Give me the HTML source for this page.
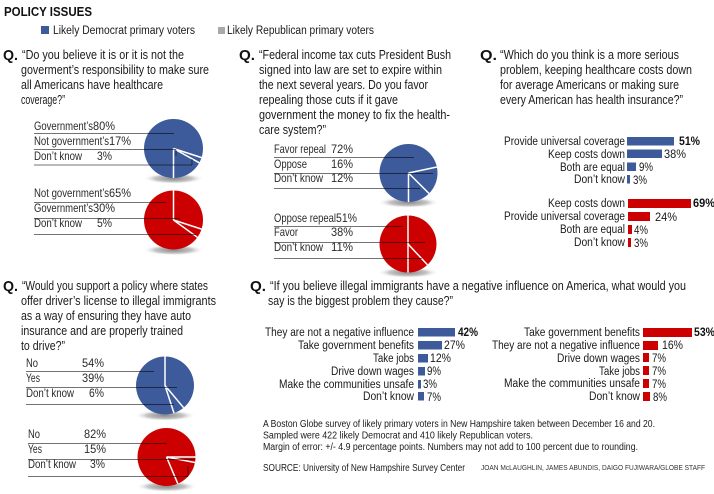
<!DOCTYPE html>
<html><head><meta charset="utf-8"><style>
html,body{margin:0;padding:0;background:#fff;}
svg{display:block;}
text{font-family:"Liberation Sans Narrow","Liberation Sans",Arial,sans-serif;fill:#1a1a1a;}
.q{font-size:13px;}
.Q{font-size:15px;font-weight:bold;fill:#111;}
.pl{font-size:12px;fill:#2a2a2a;}
.bl{font-size:11.5px;fill:#1a1a1a;}
.bb{font-size:11.5px;font-weight:bold;fill:#111;}
.ft{font-size:10px;fill:#1a1a1a;}
.rule{stroke:rgba(0,0,0,0.55);stroke-width:1;}
.wl{stroke:#fff;stroke-width:1.5;}
</style></head><body>
<svg width="714" height="494" viewBox="0 0 714 494" xmlns="http://www.w3.org/2000/svg">
<defs>
<radialGradient id="sh" cx="50%" cy="50%" r="50%">
<stop offset="0%" stop-color="#8a8a8a"/>
<stop offset="60%" stop-color="#c4c4c4"/>
<stop offset="100%" stop-color="#fff" stop-opacity="0"/>
</radialGradient>
</defs>

<!-- Title & legend -->
<text x="4" y="16" style="font-size:12.5px;font-weight:bold;fill:#111" textLength="88" lengthAdjust="spacingAndGlyphs">POLICY ISSUES</text>
<rect x="41" y="26" width="8" height="8" fill="#3d5b9b"/>
<text x="53" y="34" style="font-size:11.5px" textLength="142" lengthAdjust="spacingAndGlyphs">Likely Democrat primary voters</text>
<rect x="218" y="27" width="7" height="7" fill="#aaaaaa"/>
<text x="227" y="34" style="font-size:11.5px" textLength="147" lengthAdjust="spacingAndGlyphs">Likely Republican primary voters</text>

<!-- Q1 -->
<text class="Q" x="3" y="60" textLength="15" lengthAdjust="spacingAndGlyphs">Q.</text>
<text class="q" x="22" y="59" textLength="162" lengthAdjust="spacingAndGlyphs">“Do you believe it is or it is not the</text>
<text class="q" x="21" y="74" textLength="188" lengthAdjust="spacingAndGlyphs">goverment’s responsibility to make sure</text>
<text class="q" x="21" y="89" textLength="142" lengthAdjust="spacingAndGlyphs">all Americans have healthcare</text>
<text class="q" x="21" y="104" textLength="44" lengthAdjust="spacingAndGlyphs">coverage?”</text>

<!-- Pie 1 Dem -->
<ellipse cx="173.5" cy="178.5" rx="31" ry="5.5" fill="url(#sh)"/>
<circle cx="173.5" cy="148.5" r="29.5" fill="#3d5b9b"/>
<line class="wl" x1="173.5" y1="148.5" x2="201.6" y2="157.6"/>
<line class="wl" x1="173.5" y1="148.5" x2="199.3" y2="162.8"/>
<line class="wl" x1="173.5" y1="148.5" x2="173.5" y2="178"/>
<text class="pl" x="34" y="130" textLength="59" lengthAdjust="spacingAndGlyphs">Government’s</text>
<text class="pl" x="93" y="130" textLength="22" lengthAdjust="spacingAndGlyphs">80%</text>
<text class="pl" x="34" y="145" textLength="75" lengthAdjust="spacingAndGlyphs">Not government’s</text>
<text class="pl" x="109" y="145" textLength="22" lengthAdjust="spacingAndGlyphs">17%</text>
<text class="pl" x="34" y="160" textLength="48" lengthAdjust="spacingAndGlyphs">Don’t know</text>
<text class="pl" x="97" y="160" textLength="15" lengthAdjust="spacingAndGlyphs">3%</text>
<line class="rule" x1="34" y1="133.5" x2="174" y2="133.5"/>
<line class="rule" x1="34" y1="149.5" x2="176" y2="149.5"/>
<line class="rule" x1="176" y1="149.5" x2="176" y2="156"/>
<line class="rule" x1="34" y1="165" x2="192" y2="165"/>
<line class="rule" x1="192" y1="165" x2="192" y2="159"/>

<!-- Pie 2 Rep -->
<ellipse cx="173.5" cy="250" rx="31" ry="5.5" fill="url(#sh)"/>
<circle cx="173.5" cy="220" r="29.5" fill="#cc0000"/>
<line class="wl" x1="173.5" y1="220" x2="173.5" y2="190.5"/>
<line class="wl" x1="173.5" y1="220" x2="201.6" y2="229.1"/>
<line class="wl" x1="173.5" y1="220" x2="197.4" y2="237.3"/>
<text class="pl" x="34" y="197" textLength="75" lengthAdjust="spacingAndGlyphs">Not government’s</text>
<text class="pl" x="109" y="197" textLength="22" lengthAdjust="spacingAndGlyphs">65%</text>
<text class="pl" x="34" y="212" textLength="59" lengthAdjust="spacingAndGlyphs">Government’s</text>
<text class="pl" x="93" y="212" textLength="22" lengthAdjust="spacingAndGlyphs">30%</text>
<text class="pl" x="34" y="227" textLength="48" lengthAdjust="spacingAndGlyphs">Don’t know</text>
<text class="pl" x="97" y="227" textLength="15" lengthAdjust="spacingAndGlyphs">5%</text>
<line class="rule" x1="34" y1="202.5" x2="166" y2="202.5"/>
<line class="rule" x1="34" y1="218.5" x2="180" y2="218.5"/>
<line class="rule" x1="34" y1="234.5" x2="196" y2="234.5"/>

<!-- Q2 -->
<text class="Q" x="239" y="60" textLength="16" lengthAdjust="spacingAndGlyphs">Q.</text>
<text class="q" x="259" y="59" textLength="192" lengthAdjust="spacingAndGlyphs">“Federal income tax cuts President Bush</text>
<text class="q" x="259" y="74" textLength="183" lengthAdjust="spacingAndGlyphs">signed into law are set to expire within</text>
<text class="q" x="259" y="89" textLength="169" lengthAdjust="spacingAndGlyphs">the next several years. Do you favor</text>
<text class="q" x="259" y="104" textLength="139" lengthAdjust="spacingAndGlyphs">repealing those cuts if it gave</text>
<text class="q" x="259" y="119" textLength="191" lengthAdjust="spacingAndGlyphs">government the money to fix the health-</text>
<text class="q" x="259" y="134" textLength="67" lengthAdjust="spacingAndGlyphs">care system?”</text>

<!-- Pie 3 Dem -->
<ellipse cx="408.5" cy="202.5" rx="31" ry="5.5" fill="url(#sh)"/>
<circle cx="408.5" cy="173" r="29" fill="#3d5b9b"/>
<line class="wl" x1="408.5" y1="173" x2="436.9" y2="167"/>
<line class="wl" x1="408.5" y1="173" x2="429" y2="193.5"/>
<line class="wl" x1="408.5" y1="173" x2="408.5" y2="202"/>
<text class="pl" x="274" y="153" textLength="52" lengthAdjust="spacingAndGlyphs">Favor repeal</text>
<text class="pl" x="331" y="153" textLength="22" lengthAdjust="spacingAndGlyphs">72%</text>
<text class="pl" x="274" y="168" textLength="33" lengthAdjust="spacingAndGlyphs">Oppose</text>
<text class="pl" x="331" y="168" textLength="22" lengthAdjust="spacingAndGlyphs">16%</text>
<text class="pl" x="274" y="182" textLength="49" lengthAdjust="spacingAndGlyphs">Don’t know</text>
<text class="pl" x="331" y="182" textLength="22" lengthAdjust="spacingAndGlyphs">12%</text>
<line class="rule" x1="274" y1="157.5" x2="414" y2="157.5"/>
<line class="rule" x1="274" y1="173.5" x2="433" y2="173.5"/>
<line class="rule" x1="274" y1="188.5" x2="420" y2="188.5"/>

<!-- Pie 4 Rep -->
<ellipse cx="408" cy="272.5" rx="31" ry="5.5" fill="url(#sh)"/>
<circle cx="408" cy="244" r="28.5" fill="#cc0000"/>
<line class="wl" x1="408" y1="215.5" x2="408" y2="272.5"/>
<line class="wl" x1="408" y1="244" x2="427.4" y2="264.8"/>
<text class="pl" x="274" y="222" textLength="62" lengthAdjust="spacingAndGlyphs">Oppose repeal</text>
<text class="pl" x="336" y="222" textLength="21" lengthAdjust="spacingAndGlyphs">51%</text>
<text class="pl" x="274" y="236" textLength="24" lengthAdjust="spacingAndGlyphs">Favor</text>
<text class="pl" x="331" y="236" textLength="22" lengthAdjust="spacingAndGlyphs">38%</text>
<text class="pl" x="274" y="251" textLength="49" lengthAdjust="spacingAndGlyphs">Don’t know</text>
<text class="pl" x="331" y="251" textLength="22" lengthAdjust="spacingAndGlyphs">11%</text>
<line class="rule" x1="274" y1="226.5" x2="403" y2="226.5"/>
<line class="rule" x1="274" y1="242.5" x2="425" y2="242.5"/>
<line class="rule" x1="274" y1="258.5" x2="422" y2="258.5"/>

<!-- Q3 -->
<text class="Q" x="480" y="60" textLength="17" lengthAdjust="spacingAndGlyphs">Q.</text>
<text class="q" x="500" y="59" textLength="179" lengthAdjust="spacingAndGlyphs">“Which do you think is a more serious</text>
<text class="q" x="500" y="74" textLength="192" lengthAdjust="spacingAndGlyphs">problem, keeping healthcare costs down</text>
<text class="q" x="500" y="89" textLength="179" lengthAdjust="spacingAndGlyphs">for average Americans or making sure</text>
<text class="q" x="500" y="104" textLength="183" lengthAdjust="spacingAndGlyphs">every American has health insurance?”</text>

<!-- Q3 blue bars -->
<text class="bl" x="504" y="145" textLength="121" lengthAdjust="spacingAndGlyphs">Provide universal coverage</text>
<rect x="627" y="137" width="47" height="8.5" fill="#3d5b9b"/>
<text class="bb" x="679" y="145" textLength="21" lengthAdjust="spacingAndGlyphs">51%</text>
<text class="bl" x="548" y="158" textLength="77" lengthAdjust="spacingAndGlyphs">Keep costs down</text>
<rect x="627" y="149.5" width="35" height="8.5" fill="#3d5b9b"/>
<text class="bl" x="664" y="158" textLength="22" lengthAdjust="spacingAndGlyphs">38%</text>
<text class="bl" x="560" y="171" textLength="65" lengthAdjust="spacingAndGlyphs">Both are equal</text>
<rect x="627" y="162.5" width="9" height="8.5" fill="#3d5b9b"/>
<text class="bl" x="639" y="171" textLength="14" lengthAdjust="spacingAndGlyphs">9%</text>
<text class="bl" x="574" y="183" textLength="51" lengthAdjust="spacingAndGlyphs">Don’t know</text>
<rect x="627" y="175" width="3" height="8.5" fill="#3d5b9b"/>
<text class="bl" x="633" y="184" textLength="14" lengthAdjust="spacingAndGlyphs">3%</text>

<!-- Q3 red bars -->
<text class="bl" x="548" y="207" textLength="77" lengthAdjust="spacingAndGlyphs">Keep costs down</text>
<rect x="628" y="199" width="63" height="9" fill="#cc0000"/>
<text class="bb" x="693" y="207" textLength="22" lengthAdjust="spacingAndGlyphs">69%</text>
<text class="bl" x="504" y="220" textLength="121" lengthAdjust="spacingAndGlyphs">Provide universal coverage</text>
<rect x="628" y="212" width="22" height="9" fill="#cc0000"/>
<text class="bl" x="655" y="221" textLength="22" lengthAdjust="spacingAndGlyphs">24%</text>
<text class="bl" x="560" y="233" textLength="65" lengthAdjust="spacingAndGlyphs">Both are equal</text>
<rect x="628" y="225" width="4" height="9" fill="#cc0000"/>
<text class="bl" x="634" y="234" textLength="14" lengthAdjust="spacingAndGlyphs">4%</text>
<text class="bl" x="574" y="246" textLength="51" lengthAdjust="spacingAndGlyphs">Don’t know</text>
<rect x="628" y="238" width="3" height="9" fill="#cc0000"/>
<text class="bl" x="634" y="247" textLength="14" lengthAdjust="spacingAndGlyphs">3%</text>

<!-- Q4 -->
<text class="Q" x="3" y="291" textLength="15" lengthAdjust="spacingAndGlyphs">Q.</text>
<text class="q" x="22" y="290" textLength="186" lengthAdjust="spacingAndGlyphs">“Would you support a policy where states</text>
<text class="q" x="21" y="305" textLength="195" lengthAdjust="spacingAndGlyphs">offer driver’s license to illegal immigrants</text>
<text class="q" x="21" y="320" textLength="170" lengthAdjust="spacingAndGlyphs">as a way of ensuring they have auto</text>
<text class="q" x="21" y="335" textLength="162" lengthAdjust="spacingAndGlyphs">insurance and are properly trained</text>
<text class="q" x="21" y="350" textLength="44" lengthAdjust="spacingAndGlyphs">to drive?”</text>

<!-- Pie 5 Dem -->
<ellipse cx="165" cy="415.5" rx="31" ry="5.5" fill="url(#sh)"/>
<circle cx="165" cy="385.5" r="29" fill="#3d5b9b"/>
<line class="wl" x1="165" y1="385.5" x2="165" y2="356.5"/>
<line class="wl" x1="165" y1="385.5" x2="183.6" y2="407.7"/>
<line class="wl" x1="165" y1="385.5" x2="174" y2="413.1"/>
<text class="pl" x="26" y="367" textLength="12" lengthAdjust="spacingAndGlyphs">No</text>
<text class="pl" x="82" y="367" textLength="22" lengthAdjust="spacingAndGlyphs">54%</text>
<text class="pl" x="26" y="382" textLength="14" lengthAdjust="spacingAndGlyphs">Yes</text>
<text class="pl" x="82" y="382" textLength="22" lengthAdjust="spacingAndGlyphs">39%</text>
<text class="pl" x="26" y="397" textLength="48" lengthAdjust="spacingAndGlyphs">Don’t know</text>
<text class="pl" x="89" y="397" textLength="15" lengthAdjust="spacingAndGlyphs">6%</text>
<line class="rule" x1="26" y1="371.5" x2="154" y2="371.5"/>
<line class="rule" x1="26" y1="387.5" x2="177" y2="387.5"/>
<line class="rule" x1="26" y1="404.5" x2="174" y2="404.5"/>

<!-- Pie 6 Rep -->
<ellipse cx="166.5" cy="486.5" rx="31" ry="5.5" fill="url(#sh)"/>
<circle cx="166.5" cy="457" r="29" fill="#cc0000"/>
<line class="wl" x1="166.5" y1="457" x2="195.5" y2="457"/>
<line class="wl" x1="166.5" y1="457" x2="195" y2="462.5"/>
<line class="wl" x1="166.5" y1="457" x2="177.8" y2="483.7"/>
<text class="pl" x="28" y="438" textLength="12" lengthAdjust="spacingAndGlyphs">No</text>
<text class="pl" x="84" y="438" textLength="22" lengthAdjust="spacingAndGlyphs">82%</text>
<text class="pl" x="28" y="453" textLength="14" lengthAdjust="spacingAndGlyphs">Yes</text>
<text class="pl" x="84" y="453" textLength="22" lengthAdjust="spacingAndGlyphs">15%</text>
<text class="pl" x="28" y="468" textLength="48" lengthAdjust="spacingAndGlyphs">Don’t know</text>
<text class="pl" x="90" y="468" textLength="15" lengthAdjust="spacingAndGlyphs">3%</text>
<line class="rule" x1="28" y1="443.5" x2="167" y2="443.5"/>
<line class="rule" x1="28" y1="459.5" x2="195" y2="459.5"/>
<line class="rule" x1="28" y1="476.5" x2="188" y2="476.5"/>
<line class="rule" x1="188" y1="476.5" x2="188" y2="466"/>

<!-- Q5 -->
<text class="Q" x="250" y="291" textLength="16" lengthAdjust="spacingAndGlyphs">Q.</text>
<text class="q" x="270" y="290" textLength="416" lengthAdjust="spacingAndGlyphs">“If you believe illegal immigrants have a negative influence on America, what would you</text>
<text class="q" x="268" y="305" textLength="185" lengthAdjust="spacingAndGlyphs">say is the biggest problem they cause?”</text>

<!-- Q5 blue bars -->
<text class="bl" x="265" y="336" textLength="149" lengthAdjust="spacingAndGlyphs">They are not a negative influence</text>
<rect x="418" y="328" width="37" height="8.5" fill="#3d5b9b"/>
<text class="bb" x="458" y="336" textLength="20" lengthAdjust="spacingAndGlyphs">42%</text>
<text class="bl" x="298" y="349" textLength="116" lengthAdjust="spacingAndGlyphs">Take government benefits</text>
<rect x="418" y="341" width="24" height="8.5" fill="#3d5b9b"/>
<text class="bl" x="444" y="349" textLength="21" lengthAdjust="spacingAndGlyphs">27%</text>
<text class="bl" x="373" y="362" textLength="41" lengthAdjust="spacingAndGlyphs">Take jobs</text>
<rect x="418" y="354" width="10" height="8.5" fill="#3d5b9b"/>
<text class="bl" x="430" y="362" textLength="21" lengthAdjust="spacingAndGlyphs">12%</text>
<text class="bl" x="331" y="375" textLength="83" lengthAdjust="spacingAndGlyphs">Drive down wages</text>
<rect x="418" y="367" width="7" height="8.5" fill="#3d5b9b"/>
<text class="bl" x="427" y="375" textLength="14" lengthAdjust="spacingAndGlyphs">9%</text>
<text class="bl" x="279" y="388" textLength="135" lengthAdjust="spacingAndGlyphs">Make the communities unsafe</text>
<rect x="418" y="380" width="3" height="8.5" fill="#3d5b9b"/>
<text class="bl" x="423" y="388" textLength="14" lengthAdjust="spacingAndGlyphs">3%</text>
<text class="bl" x="363" y="400" textLength="51" lengthAdjust="spacingAndGlyphs">Don’t know</text>
<rect x="418" y="392" width="6" height="8.5" fill="#3d5b9b"/>
<text class="bl" x="427" y="401" textLength="14" lengthAdjust="spacingAndGlyphs">7%</text>

<!-- Q5 red bars -->
<text class="bl" x="524" y="336" textLength="116" lengthAdjust="spacingAndGlyphs">Take government benefits</text>
<rect x="643" y="328" width="49" height="9" fill="#cc0000"/>
<text class="bb" x="694" y="336" textLength="21" lengthAdjust="spacingAndGlyphs">53%</text>
<text class="bl" x="492" y="349" textLength="148" lengthAdjust="spacingAndGlyphs">They are not a negative influence</text>
<rect x="643" y="341" width="15" height="9" fill="#cc0000"/>
<text class="bl" x="662" y="349" textLength="21" lengthAdjust="spacingAndGlyphs">16%</text>
<text class="bl" x="557" y="362" textLength="83" lengthAdjust="spacingAndGlyphs">Drive down wages</text>
<rect x="643" y="353" width="6" height="9" fill="#cc0000"/>
<text class="bl" x="652" y="362" textLength="14" lengthAdjust="spacingAndGlyphs">7%</text>
<text class="bl" x="599" y="375" textLength="41" lengthAdjust="spacingAndGlyphs">Take jobs</text>
<rect x="643" y="366" width="6" height="9" fill="#cc0000"/>
<text class="bl" x="652" y="375" textLength="14" lengthAdjust="spacingAndGlyphs">7%</text>
<text class="bl" x="504" y="387" textLength="136" lengthAdjust="spacingAndGlyphs">Make the communities unsafe</text>
<rect x="643" y="379" width="6" height="9" fill="#cc0000"/>
<text class="bl" x="652" y="388" textLength="14" lengthAdjust="spacingAndGlyphs">7%</text>
<text class="bl" x="589" y="400" textLength="51" lengthAdjust="spacingAndGlyphs">Don’t know</text>
<rect x="643" y="392" width="7" height="9" fill="#cc0000"/>
<text class="bl" x="653" y="401" textLength="14" lengthAdjust="spacingAndGlyphs">8%</text>

<!-- Footer -->
<text class="ft" x="263" y="427" textLength="392" lengthAdjust="spacingAndGlyphs">A Boston Globe survey of likely primary voters in New Hampshire taken between December 16 and 20.</text>
<text class="ft" x="263" y="438.5" textLength="270" lengthAdjust="spacingAndGlyphs">Sampled were 422 likely Democrat and 410 likely Republican voters.</text>
<text class="ft" x="263" y="450" textLength="375" lengthAdjust="spacingAndGlyphs">Margin of error: +/- 4.9 percentage points. Numbers may not add to 100 percent due to rounding.</text>
<text x="263" y="471" style="font-size:10.5px" textLength="202" lengthAdjust="spacingAndGlyphs">SOURCE: University of New Hampshire Survey Center</text>
<text x="481" y="470" style="font-size:7.5px;fill:#333" textLength="224" lengthAdjust="spacingAndGlyphs">JOAN McLAUGHLIN, JAMES ABUNDIS, DAIGO FUJIWARA/GLOBE STAFF</text>
</svg>
</body></html>
